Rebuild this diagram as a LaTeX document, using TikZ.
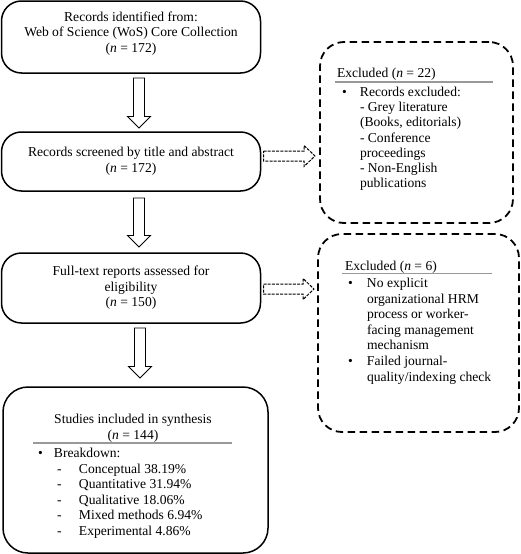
\documentclass[tikz,border=0pt]{standalone}
\usepackage{fontspec}
\setmainfont{Liberation Serif}
\usetikzlibrary{calc}
\begin{document}
\begin{tikzpicture}[x=1pt,y=-1pt,
  every node/.style={font=\fontsize{13.6}{15.6}\selectfont, inner sep=0pt, outer sep=0pt},
  mainbox/.style={draw=black, line width=1.5pt, rounded corners=20pt, align=center},
  exbox/.style={draw=black, line width=1.8pt, dash pattern=on 7.5pt off 4.5pt, rounded corners=24pt},
  sep/.style={draw=gray!80, line width=1.3pt},
  txt/.style={align=left, anchor=north west},
  blockarr/.style={draw=black, line width=0.9pt, fill=white, to path={let \p1=(\tikztostart), \p2=(\tikztotarget) in
     (\x1-5.5pt,\y1) -- (\x1+5.5pt,\y1) -- (\x1+5.5pt,\y2+11.5pt) -- (\x1+11.5pt,\y2+11.5pt) -- (\x1,\y2) -- (\x1-11.5pt,\y2+11.5pt) -- (\x1-5.5pt,\y2+11.5pt) -- cycle}},
  dasharr/.style={draw=black, line width=1pt, dash pattern=on 3pt off 1.2pt, to path={let \p1=(\tikztostart), \p2=(\tikztotarget) in
     (\x1,\y1+5pt) -- (\x2-11pt,\y1+5pt) -- (\x2-11pt,\y1+10.5pt) -- (\x2,\y1) -- (\x2-11pt,\y1-10.5pt) -- (\x2-11pt,\y1-5pt) -- (\x1,\y1-5pt) -- cycle}}
]
\useasboundingbox (0,0) rectangle (520,554);

% main boxes
\node[mainbox, minimum width=259pt, minimum height=72pt, text depth=10pt] (b1) at (131,37)
  {Records identified from:\\Web of Science (WoS) Core Collection\\(\textit{n} = 172)};
\node[mainbox, minimum width=259pt, minimum height=59pt] (b2) at (131,161.5)
  {Records screened by title and abstract\\(\textit{n} = 172)};
\node[mainbox, minimum width=259pt, minimum height=70pt] (b3) at (131,288)
  {Full-text reports assessed for\\eligibility\\(\textit{n} = 150)};
\node[mainbox, rounded corners=25pt, minimum width=265pt, minimum height=166pt] (b4) at (135.5,470) {};

\node[align=center] (t4) at (133,428.5) {Studies included in synthesis\\(\textit{n} = 144)};
\draw[sep] (33,443) -- (232,443);
\node[txt] (l4) at (38,448) {\makebox[16pt][l]{•}Breakdown:\\\hspace*{19pt}\makebox[22pt][l]{-}Conceptual 38.19\%\\\hspace*{19pt}\makebox[22pt][l]{-}Quantitative 31.94\%\\\hspace*{19pt}\makebox[22pt][l]{-}Qualitative 18.06\%\\\hspace*{19pt}\makebox[22pt][l]{-}Mixed methods 6.94\%\\\hspace*{19pt}\makebox[22pt][l]{-}Experimental 4.86\%};

% excluded boxes
\node[exbox, minimum width=193pt, minimum height=181pt] (ex1) at (416.5,132.5) {};
\node[exbox, minimum width=201pt, minimum height=198pt] (ex2) at (418.5,333) {};

\node[anchor=base west] (h1) at (337,77) {Excluded (\textit{n} = 22)};
\draw[sep] (335,82) -- (493,82);
\node[txt, font=\fontsize{13.6}{15.2}\selectfont] (l1) at (342,87) {\makebox[18pt][l]{•}Records excluded:\\\hspace*{18pt}- Grey literature\\\hspace*{18pt}(Books, editorials)\\\hspace*{18pt}- Conference\\\hspace*{18pt}proceedings\\\hspace*{18pt}- Non-English\\\hspace*{18pt}publications};

\node[anchor=base west] (h2) at (345,270) {Excluded (\textit{n} = 6)};
\draw[sep] (342,273.5) -- (492,273.5);
\node[txt] (l2) at (348,278) {\makebox[19pt][l]{•}No explicit\\\hspace*{19pt}organizational HRM\\\hspace*{19pt}process or worker-\\\hspace*{19pt}facing management\\\hspace*{19pt}mechanism\\\makebox[19pt][l]{•}Failed journal-\\\hspace*{19pt}quality/indexing check};

% connectors
\draw[blockarr] ([xshift=8pt,yshift=-5pt]b1.south) to ([xshift=8pt,yshift=4pt]b2.north);
\draw[blockarr] ([xshift=8pt,yshift=-7pt]b2.south) to ([xshift=8pt,yshift=6pt]b3.north);
\draw[blockarr] ([xshift=9pt,yshift=-5pt]b3.south) to ([yshift=9pt]b4.north);
\draw[dasharr] ([xshift=3pt,yshift=5.5pt]b2.east) to ([xshift=-5pt]ex1.west);
\draw[dasharr] ([xshift=3pt,yshift=-1pt]b3.east) to ([xshift=-4pt]ex2.west);
\end{tikzpicture}
\end{document}
